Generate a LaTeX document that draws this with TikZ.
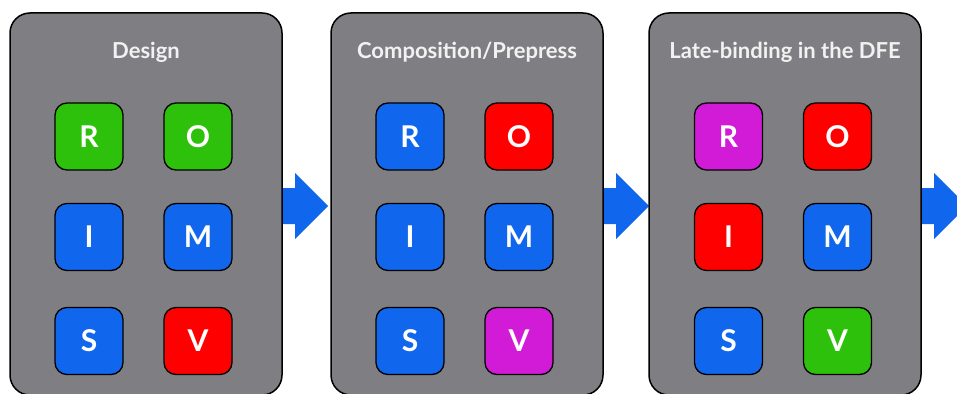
\documentclass[tikz,border=0pt]{standalone}
\usepackage{fontspec}
\setmainfont{Lato}
\usetikzlibrary{calc}
\definecolor{panelgray}{HTML}{7F7F83}
\definecolor{cblue}{HTML}{1166EE}
\definecolor{cgreen}{HTML}{2DC10B}
\definecolor{cred}{HTML}{FF0000}
\definecolor{cmag}{HTML}{D21BD6}
\definecolor{txt}{HTML}{F2F2F2}
\tikzset{
  panel/.style={draw=black, line width=1.5pt, fill=panelgray, rounded corners=20pt,
    minimum width=272pt, minimum height=382pt, inner sep=0pt},
  title/.style={text=txt, font=\fontsize{22}{26}\selectfont\bfseries, inner sep=0pt, anchor=base},
  letterbox/.style={draw=black, line width=1.3pt, rounded corners=12pt,
    minimum width=68pt, minimum height=67pt, inner sep=0pt, text=white,
    font=\fontsize{30}{31}\selectfont\bfseries},
  flowarrow/.style={fill=cblue, draw=none}
}
\newcommand{\blockarrow}[1]{%
  \fill[flowarrow] ($(#1)+(-12,-18)$) -- ($(#1)+(13,-18)$) -- ($(#1)+(13,-33)$) --
    ($(#1)+(46,0)$) -- ($(#1)+(13,33)$) -- ($(#1)+(13,18)$) -- ($(#1)+(-12,18)$) -- cycle;}
\begin{document}
\begin{tikzpicture}[x=1pt,y=-1pt]
\useasboundingbox (0,0) rectangle (957,393);
\clip (0,0) rectangle (957,393);
% arrows (drawn first, behind panels)
\coordinate (a1) at (282,206);
\coordinate (a2) at (603,206);
\coordinate (a3) at (921,206);
\blockarrow{a1}
\blockarrow{a2}
\blockarrow{a3}
% panels
\node[panel] (p1) at (146,204) {};
\node[panel] (p2) at (467,204) {};
\node[panel] (p3) at (785,204) {};
\node[title] (t1) at (146,59) {Design};
\node[title] (t2) at (467,59) {Composition/Prepress};
\node[title] (t3) at (785,59) {Late-binding in the DFE};
% panel 1
\node[letterbox, fill=cgreen] (r1) at (89,136.5) {R};
\node[letterbox, fill=cgreen] (o1) at (198,136.5) {O};
\node[letterbox, fill=cblue]  (i1) at (89,237) {I};
\node[letterbox, fill=cblue]  (m1) at (198,237) {M};
\node[letterbox, fill=cblue]  (s1) at (89,341) {S};
\node[letterbox, fill=cred]   (v1) at (198,341) {V};
% panel 2
\node[letterbox, fill=cblue]  (r2) at (410,136.5) {R};
\node[letterbox, fill=cred]   (o2) at (519,136.5) {O};
\node[letterbox, fill=cblue]  (i2) at (410,237) {I};
\node[letterbox, fill=cblue]  (m2) at (519,237) {M};
\node[letterbox, fill=cblue]  (s2) at (410,341) {S};
\node[letterbox, fill=cmag]   (v2) at (519,341) {V};
% panel 3
\node[letterbox, fill=cmag]   (r3) at (728.5,136.5) {R};
\node[letterbox, fill=cred]   (o3) at (837.5,136.5) {O};
\node[letterbox, fill=cred]   (i3) at (728.5,237) {I};
\node[letterbox, fill=cblue]  (m3) at (837.5,237) {M};
\node[letterbox, fill=cblue]  (s3) at (728.5,341) {S};
\node[letterbox, fill=cgreen] (v3) at (837.5,341) {V};
\end{tikzpicture}
\end{document}
